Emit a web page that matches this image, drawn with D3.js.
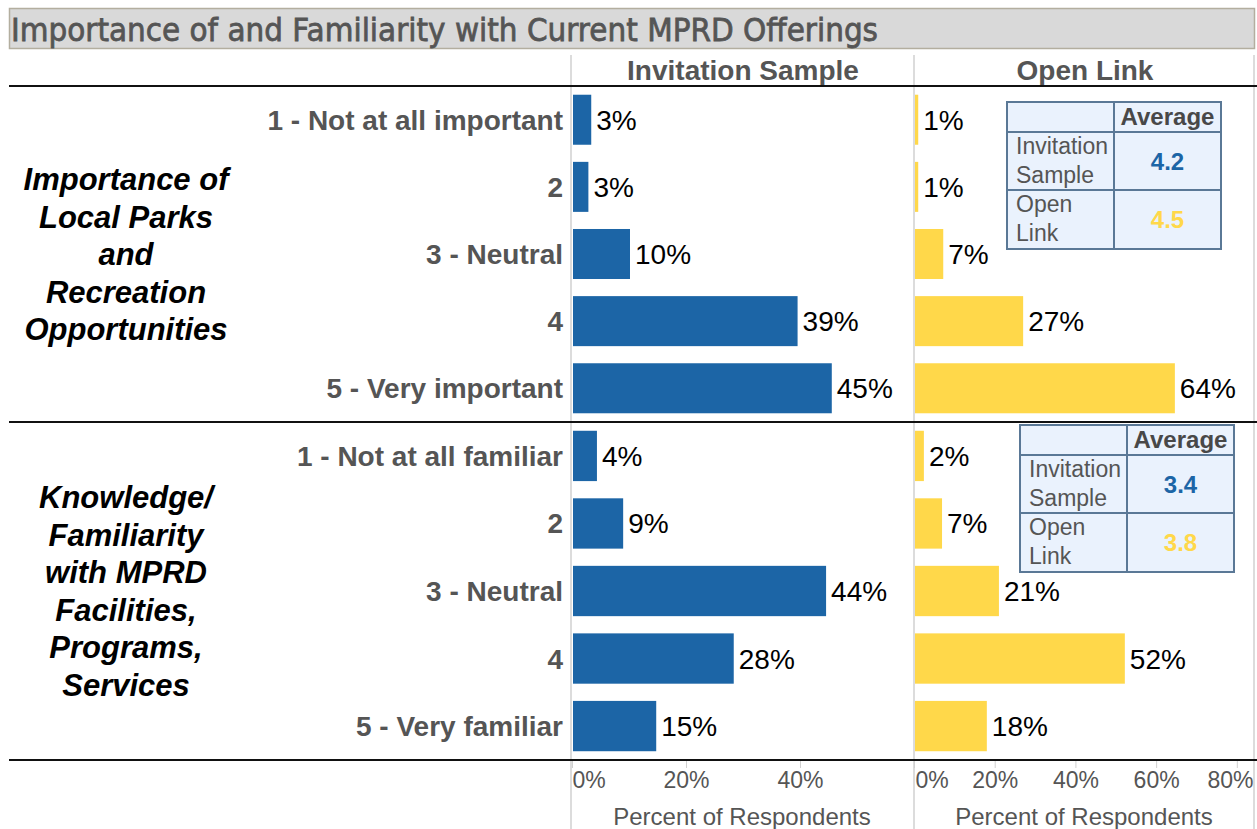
<!DOCTYPE html>
<html>
<head>
<meta charset="utf-8">
<script src="https://cdn.jsdelivr.net/npm/d3@7"></script>
<style>
  body { margin: 0; background: #fff; }
  svg { display: block; font-family: Arial, "Liberation Sans", sans-serif; }
</style>
</head>
<body>
<svg id="chart"></svg>
<script>
var width = 1257
var height = 829

// data (percent of respondents)
var importanceLevels = ["1 - Not at all important", "2", "3 - Neutral", "4", "5 - Very important"]
var familiarityLevels = ["1 - Not at all familiar", "2", "3 - Neutral", "4", "5 - Very familiar"]
var invitationImportance = [3.2, 2.7, 10.0, 39.4, 45.4]
var openImportance = [0.8, 0.8, 7.0, 26.8, 64.4]
var invitationFamiliarity = [4.2, 8.8, 44.4, 28.2, 14.6]
var openFamiliarity = [2.2, 6.7, 20.8, 52.0, 17.8]
var averageImportance = [4.2, 4.5]
var averageFamiliarity = [3.4, 3.8]
var averageRows = [["Invitation", "Sample"], ["Open", "Link"]]
var invitationTicks = [0, 20, 40]
var openTicks = [0, 20, 40, 60, 80]
var columns = ["Invitation Sample", "Open Link"]
var groupLabels = [
  ["Importance of", "Local Parks", "and", "Recreation", "Opportunities"],
  ["Knowledge/", "Familiarity", "with MPRD", "Facilities,", "Programs,", "Services"]
]

var blue = "#1c65a6"
var yellow = "#ffd84a"
var grey = "#555555"

var svg = d3.select("#chart")
  .attr("width", width)
  .attr("height", height)

// title bar
svg.append("rect")
  .attr("x", 9.5).attr("y", 8.5)
  .attr("width", 1245).attr("height", 40)
  .attr("fill", "#d9d9d9")
  .attr("stroke", "#b3ae9f")
  .attr("stroke-width", 1.5)
svg.append("text")
  .attr("x", 11).attr("y", 41)
  .attr("font-family", "'DejaVu Sans', Verdana, sans-serif")
  .attr("font-size", 32)
  .attr("fill", grey)
  .attr("stroke", grey)
  .attr("stroke-width", 0.8)
  .attr("textLength", 867)
  .attr("lengthAdjust", "spacingAndGlyphs")
  .text("Importance of and Familiarity with Current MPRD Offerings")

// scales
var xInv = d3.scaleLinear().domain([0, 60]).range([572, 914])
var xOpen = d3.scaleLinear().domain([0, 85]).range([914, 1257])

var sections = [
  { top: 86, bottom: 422, levels: importanceLevels, inv: invitationImportance, open: openImportance, avg: averageImportance, box: [1007, 102] },
  { top: 422, bottom: 760, levels: familiarityLevels, inv: invitationFamiliarity, open: openFamiliarity, avg: averageFamiliarity, box: [1020, 425] }
]

// vertical pane lines
;[571, 914, 1254].forEach(function(x) {
  svg.append("line")
    .attr("x1", x).attr("x2", x)
    .attr("y1", 55).attr("y2", height)
    .attr("stroke", "#dcdcdc")
    .attr("stroke-width", 2)
})

// column headers
svg.selectAll(".colhead")
  .data(columns)
  .enter()
  .append("text")
  .attr("class", "colhead")
  .attr("x", function(d, i) { return i == 0 ? 743 : 1085 })
  .attr("y", 80)
  .attr("text-anchor", "middle")
  .attr("font-size", 28)
  .attr("font-weight", "bold")
  .attr("fill", grey)
  .text(function(d) { return d })

sections.forEach(function(s, si) {
  var y = d3.scaleBand()
    .domain(s.levels)
    .range([s.top, s.bottom])
    .paddingInner(0.255)
    .paddingOuter(0.13)

  var g = svg.append("g")

  // group label
  var mid = (s.top + s.bottom) / 2
  var lines = groupLabels[si]
  var lh = 37.5
  g.selectAll(".glabel")
    .data(lines)
    .enter()
    .append("text")
    .attr("x", 126)
    .attr("y", function(d, i) { return mid + (i - (lines.length - 1) / 2) * lh + 11 })
    .attr("text-anchor", "middle")
    .attr("font-size", 31)
    .attr("font-weight", "bold")
    .attr("font-style", "italic")
    .attr("fill", "#000")
    .text(function(d) { return d })

  // row labels
  g.selectAll(".rlabel")
    .data(s.levels)
    .enter()
    .append("text")
    .attr("x", 563)
    .attr("y", function(d) { return y(d) + y.bandwidth() / 2 + 10 })
    .attr("text-anchor", "end")
    .attr("font-size", 28)
    .attr("font-weight", "bold")
    .attr("fill", grey)
    .text(function(d) { return d })

  var panes = [
    { x: xInv, vals: s.inv, color: blue },
    { x: xOpen, vals: s.open, color: yellow }
  ]
  panes.forEach(function(p) {
    g.selectAll(null)
      .data(p.vals)
      .enter()
      .append("rect")
      .attr("x", p.x(0) + 1)
      .attr("y", function(d, i) { return y(s.levels[i]) })
      .attr("width", function(d) { return p.x(d) - p.x(0) })
      .attr("height", y.bandwidth())
      .attr("fill", p.color)

    g.selectAll(null)
      .data(p.vals)
      .enter()
      .append("text")
      .attr("x", function(d) { return p.x(d) + 6 })
      .attr("y", function(d, i) { return y(s.levels[i]) + y.bandwidth() / 2 + 10 })
      .attr("font-size", 28)
      .attr("fill", "#000")
      .text(function(d) { return Math.round(d) + "%" })
  })

  // average table
  var bx = s.box[0], by = s.box[1]
  var colW = [107, 107]
  var rowH = [30, 58, 59]
  var tg = g.append("g").attr("transform", "translate(" + bx + "," + by + ")")
  tg.append("rect")
    .attr("width", colW[0] + colW[1]).attr("height", d3.sum(rowH))
    .attr("fill", "#eaf2fd")
    .attr("stroke", "#5a7896")
    .attr("stroke-width", 2)
  tg.append("line")
    .attr("x1", colW[0]).attr("x2", colW[0])
    .attr("y1", 0).attr("y2", d3.sum(rowH))
    .attr("stroke", "#5a7896").attr("stroke-width", 2)
  ;[rowH[0], rowH[0] + rowH[1]].forEach(function(yy) {
    tg.append("line")
      .attr("x1", 0).attr("x2", colW[0] + colW[1])
      .attr("y1", yy).attr("y2", yy)
      .attr("stroke", "#5a7896").attr("stroke-width", 2)
  })
  tg.append("text")
    .attr("x", colW[0] + colW[1] / 2).attr("y", 23)
    .attr("text-anchor", "middle")
    .attr("font-size", 24)
    .attr("font-weight", "bold")
    .attr("fill", "#484848")
    .text("Average")
  averageRows.forEach(function(r, ri) {
    var top = rowH[0] + (ri == 0 ? 0 : rowH[1])
    r.forEach(function(w, wi) {
      tg.append("text")
        .attr("x", 9).attr("y", top + 22 + wi * 29)
        .attr("font-size", 23)
        .attr("fill", grey)
        .text(w)
    })
    tg.append("text")
      .attr("x", colW[0] + colW[1] / 2).attr("y", top + 38)
      .attr("text-anchor", "middle")
      .attr("font-size", 24)
      .attr("font-weight", "bold")
      .attr("fill", ri == 0 ? blue : yellow)
      .text(s.avg[ri].toFixed(1))
  })
})

// horizontal separators
;[86, 422, 760].forEach(function(yy) {
  svg.append("line")
    .attr("x1", 9).attr("x2", width)
    .attr("y1", yy).attr("y2", yy)
    .attr("stroke", "#111")
    .attr("stroke-width", 2)
})

// axes
var axes = [
  { x: xInv, ticks: invitationTicks, lo: 572, hi: 912 },
  { x: xOpen, ticks: openTicks, lo: 915, hi: 1253 }
]
axes.forEach(function(a) {
  var ag = svg.append("g").attr("transform", "translate(0,761)")
  var axis = d3.axisBottom(a.x)
    .tickValues(a.ticks)
    .tickSize(7)
    .tickPadding(6)
    .tickFormat(function(d) { return d + "%" })
  ag.call(axis)
  ag.select(".domain").remove()
  ag.selectAll(".tick line").attr("stroke", "#d0d0d0")
  ag.selectAll(".tick text")
    .attr("font-size", 23)
    .attr("font-family", "Arial, 'Liberation Sans', sans-serif")
    .attr("fill", grey)
    .attr("y", 27)
    .attr("dy", 0)
    .attr("text-anchor", "middle")
    .each(function(d) {
      var t = d3.select(this)
      var w = this.getComputedTextLength()
      var cx = a.x(d)
      var shift = 0
      if (cx - w / 2 < a.lo) shift = a.lo - (cx - w / 2)
      if (cx + w / 2 > a.hi) shift = a.hi - (cx + w / 2)
      t.attr("x", shift)
    })
  svg.append("text")
    .attr("x", (a.lo + a.hi) / 2)
    .attr("y", 825)
    .attr("text-anchor", "middle")
    .attr("font-size", 24)
    .attr("fill", grey)
    .text("Percent of Respondents")
})
</script>
</body>
</html>
